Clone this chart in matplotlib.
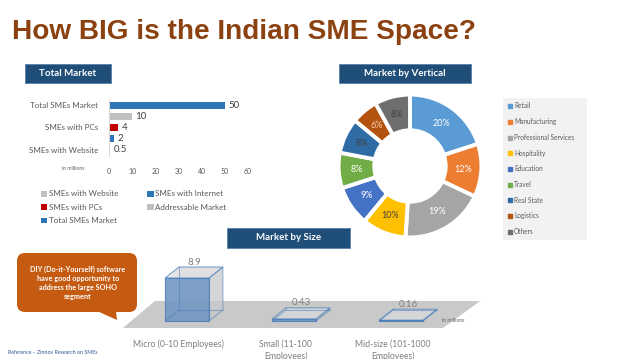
import matplotlib.pyplot as plt
import matplotlib.patches as mpatches
import numpy as np

# ---- data ----
market_cats = ["SMEs with Website", "SMEs with Internet", "SMEs with PCs",
               "Addressable Market", "Total SMEs Market"]
market_vals = [0.5, 2, 4, 10, 50]
market_cols = ["#BFBFBF", "#2E75B6", "#C00000", "#BFBFBF", "#2E75B6"]

vert_cats = ["Retail", "Manufacturing", "Professional Services", "Hospitality",
             "Education", "Travel", "Real State", "Logistics", "Others"]
vert_vals = [20, 12, 19, 10, 9, 8, 8, 6, 8]
vert_cols = ["#5B9BD5", "#ED7D31", "#A5A5A5", "#FFC000", "#4472C4",
             "#70AD47", "#2F6CA6", "#B4520F", "#6E6E6E"]
vert_txt = ["white", "white", "white", "#404040", "white",
            "white", "#404040", "#F8CBAD", "#404040"]

size_cats = ["Micro (0-10 Employees)", "Small (11-100\nEmployees)",
             "Mid-size (101-1000\nEmployees)"]
size_vals = [8.9, 0.43, 0.16]

plt.rcParams['font.family'] = ['Lato', 'DejaVu Sans']
W, H = 638, 359
fig = plt.figure(figsize=(W / 100, H / 100), dpi=100)


def rect(x0, y0, x1, y1):
    # pixel box (top-left origin) -> figure fraction
    return [x0 / W, 1 - y1 / H, (x1 - x0) / W, (y1 - y0) / H]


# overlay for headers and decorations
bg = fig.add_axes([0, 0, 1, 1], zorder=0)
bg.set_xlim(0, W)
bg.set_ylim(H, 0)
bg.axis('off')

fig.text(12 / W, 1 - 32 / H, "How BIG is the Indian SME Space?", family='Liberation Sans',
         fontsize=20.2, fontweight='bold', color='#8B4210', va='center', ha='left')


def header(x0, y0, x1, y1, txt):
    bg.add_patch(mpatches.Rectangle((x0, y0), x1 - x0, y1 - y0, facecolor='#1F4E79',
                                    edgecolor='#5B7FA8', lw=0.6))
    bg.text((x0 + x1) / 2, (y0 + y1) / 2, txt, color='white', fontsize=7,
            fontweight='bold', ha='center', va='center')


header(25, 64, 111, 83, "Total Market")
header(339, 64, 471, 83, "Market by Vertical")
header(227, 228, 350, 248, "Market by Size")

# callout
bg.add_patch(mpatches.FancyBboxPatch((17, 253), 120, 59, boxstyle="round,pad=0,rounding_size=8",
                                     facecolor='#C55A11', edgecolor='none'))
bg.add_patch(mpatches.Polygon([(97, 311), (116, 311), (117, 320)], closed=True,
                              facecolor='#C55A11', edgecolor='none'))
bg.text(78, 283, "DIY (Do-it-Yourself) software\nhave good opportunity to\naddress the large SOHO\nsegment",
        color='white', fontsize=5.2, fontweight='bold', ha='center', va='center', linespacing=1.3)

bg.text(8, 353, "Reference \u2013 Zinnov Research on SMEs", color='#2F5597', fontsize=3.8,
        ha='left', va='center')

# ---- Total Market bar chart ----
ax1 = fig.add_axes(rect(109, 99.5, 248, 155.5))
ax1.patch.set_alpha(0)
ypos = np.arange(len(market_vals))
bars = ax1.barh(ypos, market_vals, height=0.62, color=market_cols)
for y, v in zip(ypos, market_vals):
    ax1.text(v + 1.5, y, f"{v:g}", va='center', ha='left', fontsize=7, color='#404040')
ax1.set_xlim(0, 60)
ax1.set_ylim(-0.5, len(market_vals) - 0.5)
ax1.set_xticks(range(0, 61, 10))
ax1.set_yticks(ypos[::2])
ax1.set_yticklabels(market_cats[::2], fontsize=5.8)
ax1.tick_params(axis='both', length=0, labelcolor='#595959')
ax1.tick_params(axis='x', pad=9, labelsize=5)
ax1.tick_params(axis='y', pad=8)
for s in ['top', 'right', 'bottom']:
    ax1.spines[s].set_visible(False)
ax1.spines['left'].set_color('#D9D9D9')
ax1.spines['left'].set_linewidth(0.8)
bg.text(73, 168, "in millions", fontsize=3.6, color='#595959', ha='center', va='center')

order = [0, 2, 4, 1, 3]
ax1.legend([bars[i] for i in order], [market_cats[i] for i in order], ncol=2,
           loc='upper left', bbox_to_anchor=(41 / W, 1 - 190.5 / H),
           bbox_transform=fig.transFigure, frameon=False, fontsize=5.8,
           labelcolor='#595959', handlelength=0.8, handleheight=0.7,
           handletextpad=0.2, columnspacing=3.6, labelspacing=0.8,
           borderpad=0, borderaxespad=0)

# ---- Market by Vertical donut ----
ax2 = fig.add_axes(rect(335, 91, 485, 241))
wedges, _ = ax2.pie(vert_vals, colors=vert_cols, startangle=90, counterclock=False,
                    radius=1, wedgeprops=dict(width=0.5, edgecolor='white', linewidth=2.8))
tot = sum(vert_vals)
ang = 90
for v, c in zip(vert_vals, vert_txt):
    mid = np.deg2rad(ang - 360 * v / tot / 2)
    ax2.text(0.74 * np.cos(mid), 0.74 * np.sin(mid), f"{v}%", ha='center', va='center',
             fontsize=6.5, color=c)
    ang -= 360 * v / tot
ax2.set_xlim(-1.05, 1.05)
ax2.set_ylim(-1.05, 1.05)
ax2.set_aspect('equal')

bg.add_patch(mpatches.Rectangle((503, 98), 84, 142, facecolor='#F2F2F2', edgecolor='none'))
handles = [mpatches.Patch(color=c) for c in vert_cols]
fig.legend(handles, vert_cats, loc='upper left', bbox_to_anchor=(508 / W, 1 - 102.5 / H),
           frameon=False, fontsize=4.7, labelcolor='#595959', handlelength=0.55,
           handleheight=0.55, handletextpad=0.4, labelspacing=1.33, borderpad=0,
           borderaxespad=0)

# ---- Market by Size pseudo-3D bars ----
ax3 = fig.add_axes(rect(110, 250, 490, 335))
ax3.patch.set_alpha(0)
ax3.set_xlim(-0.72, 2.83)
ax3.set_ylim(-2.9, 14.7)
ax3.axis('off')
dx, dy, bw = 0.13, 2.28, 0.41

ax3.add_patch(mpatches.Polygon([(-0.60, -1.45), (2.39, -1.45), (2.74, 4.14), (-0.30, 4.14)],
                               closed=True, facecolor='#C9C9C9', edgecolor='none', zorder=1))
edge = '#4A7EBB'
for i, v in enumerate(size_vals):
    x0, x1 = i - bw / 2, i + bw / 2
    # back face
    ax3.add_patch(mpatches.Polygon([(x0 + dx, dy), (x1 + dx, dy), (x1 + dx, v + dy), (x0 + dx, v + dy)],
                                   closed=True, facecolor='#D9D9D9', alpha=0.4,
                                   edgecolor='none', zorder=2))
    # right side
    ax3.add_patch(mpatches.Polygon([(x1, 0), (x1 + dx, dy), (x1 + dx, v + dy), (x1, v)],
                                   closed=True, facecolor='#C4C6CA', alpha=0.6,
                                   edgecolor=edge, lw=0.7, zorder=3))
    # top
    ax3.add_patch(mpatches.Polygon([(x0, v), (x1, v), (x1 + dx, v + dy), (x0 + dx, v + dy)],
                                   closed=True, facecolor='#DADBDE', alpha=0.7,
                                   edgecolor=edge, lw=0.8, zorder=4))
    # front
    ax3.add_patch(mpatches.Rectangle((x0, 0), bw, v, facecolor='#6F95C2', alpha=0.88,
                                     edgecolor=edge, lw=0.8, zorder=5))
    # hidden edges seen through the box
    ax3.plot([x0 + dx, x0 + dx, x1 + dx], [v + dy, dy, dy], color=edge, lw=0.5,
             alpha=0.8, zorder=6)
    ax3.plot([x0, x0 + dx], [0, dy], color=edge, lw=0.5, alpha=0.8, zorder=6)
    ax3.text(i + dx / 2, v + dy + 0.1, f"{v:g}", ha='center', va='bottom', fontsize=7,
             color='#7F7F7F', zorder=7)
    ax3.text(i - 0.08, -3.8, size_cats[i], ha='center', va='top', fontsize=6.2,
             color='#7F7F7F', linespacing=1.35)
ax3.text(2.38, 0.2, "in millions", fontsize=3.6, color='#595959', ha='left', va='center')

fig.savefig("out.png", dpi=100)
